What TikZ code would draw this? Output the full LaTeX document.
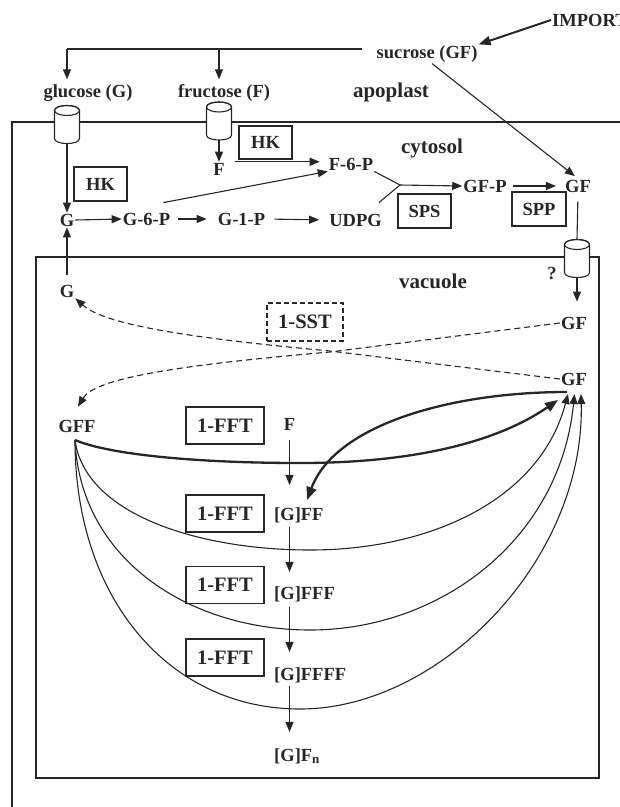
\documentclass[tikz,border=0pt]{standalone}
\usepackage{fontspec}
\setmainfont{Liberation Serif}
\usetikzlibrary{arrows.meta}
\definecolor{ink}{HTML}{262626}
\begin{document}
\begin{tikzpicture}[x=1pt,y=-1pt,
  lbl/.style={font=\fontsize{18.5}{20}\selectfont\bfseries, inner sep=1pt, text=ink},
  comp/.style={font=\fontsize{21}{24}\selectfont\bfseries, inner sep=1pt, text=ink},
  enzbox/.style={draw=ink, line width=1.1pt, font=\fontsize{18.5}{20}\selectfont\bfseries, inner sep=0pt, text=ink},
  fftbox/.style={enzbox, font=\fontsize{20.5}{22}\selectfont\bfseries, minimum width=78pt, minimum height=37pt},
  ln/.style={draw=ink, line width=1.1pt},
  arr/.style={ln, -{Triangle[length=10pt,width=8pt]}},
  thk/.style={draw=ink, line width=2.3pt, -{Triangle[length=13pt,width=10pt]}},
  dsh/.style={ln, dash pattern=on 6pt off 4pt, -{Triangle[length=10pt,width=8pt]}},
  cyl/.pic={
    \filldraw[draw=ink, line width=1.1pt, fill=white] (-12.5,-14) -- (-12.5,14)
      .. controls (-12.5,20.7) and (12.5,20.7) .. (12.5,14) -- (12.5,-14)
      .. controls (12.5,-20.7) and (-12.5,-20.7) .. cycle;
    \draw[ink, line width=1.1pt] (0,-14) ellipse [x radius=12.5, y radius=5];
    \coordinate (-top) at (0,-19);
    \coordinate (-bot) at (0,19);
  }
]
\useasboundingbox (0,0) rectangle (620,807);

% compartments
\draw[ln] (12,807) -- (12,122) -- (620,122);
\draw[ln] (36,257) rectangle (599,778);

\pic (cg) at (67,124.5) {cyl};
\pic (cf) at (219,121) {cyl};
\pic (cs) at (577,258.5) {cyl};

% apoplast
\node[lbl] (suc) at (427,54) {sucrose (GF)};
\node[lbl, anchor=west] (imp) at (551,20) {IMPORT};
\node[lbl] (glu) at (88,93) {glucose (G)};
\node[lbl] (fru) at (224,93) {fructose (F)};
\node[comp] (apo) at (391,92) {apoplast};
\node[comp] (cyt) at (432,148) {cytosol};
\node[comp] (vac) at (433,281) {vacuole};

\coordinate (sj) at (362,49);
\coordinate (gj) at (67,49);
\coordinate (fj) at (219,49);
\draw[ln] (sj) -- (gj);
\draw[arr, shorten >=4pt] (gj) -- (gj |- glu.north);
\draw[arr, shorten >=4pt] (fj) -- (fj |- fru.north);
\draw[draw=ink, line width=2pt, -{Triangle[length=12pt,width=9pt]}] (imp.west) -- (suc.north east);

% cytosol
\node[lbl] (Fc) at (219,169) {F};
\node[enzbox, minimum width=53pt, minimum height=33pt] (hk1) at (265.5,142.5) {HK};
\node[lbl] (F6P) at (351,164) {F-6-P};
\node[enzbox, minimum width=53pt, minimum height=34pt] (hk2) at (100.5,184) {HK};
\node[lbl] (G) at (67,220) {G};
\node[lbl] (G6P) at (146.5,219) {G-6-P};
\node[lbl] (G1P) at (241.5,219) {G-1-P};
\node[lbl] (UDPG) at (355.5,220) {UDPG};
\node[enzbox, minimum width=53pt, minimum height=34pt] (sps) at (424.5,211) {SPS};
\node[lbl] (GFP) at (485,186) {GF-P};
\node[enzbox, minimum width=54pt, minimum height=34pt] (spp) at (539,209) {SPP};
\node[lbl] (GFc) at (578,186) {GF};

\draw[arr, shorten >=4pt] ([xshift=5pt]suc.south) -- (GFc.north);
\draw[arr] (cf-bot) -- (Fc.north);
\draw[arr, shorten <=9pt, shorten >=8pt] (Fc.north east) -- (Fc.north east -| F6P.west);
\draw[arr] ([shift={(-8,-9)}]G6P.north east) -- (F6P.south west);
\draw[arr] (cg-bot) -- (G.north);
\draw[arr] (G.east) -- (G6P.west);
\draw[arr, shorten <=7pt, shorten >=10pt] (G6P.east) -- (G1P.west);
\draw[arr, shorten <=8pt, shorten >=9pt] (G1P.east) -- (UDPG.west);
\coordinate (sj2) at (400,185);
\draw[ln] (F6P.south east) -- (sj2) -- ([shift={(-4,-10)}]UDPG.north east);
\draw[arr] (sj2) -- (GFP.west);
\draw[arr, shorten <=5pt, shorten >=8pt] (GFP.east) -- (GFc.west);
\draw[ln, shorten <=8pt] (GFc.south) -- (cs-top);

% vacuole
\node[lbl] (q) at (552,273) {?};
\node[lbl] (GFv1) at (574,323) {GF};
\node[lbl] (GFv2) at (574,379) {GF};
\draw[arr, shorten >=14pt] (cs-bot) -- (cs-bot |- GFv1.north);
\node[lbl] (Gv) at (67,291) {G};
\draw[arr, shorten <=9pt] (Gv.north) -- (G.south);
\node[enzbox, dash pattern=on 5pt off 3pt, font=\fontsize{20.5}{22}\selectfont\bfseries, minimum width=76pt, minimum height=38pt] (sst) at (305,322) {1-SST};
\node[lbl] (GFF) at (77,426) {GFF};
\node[lbl] (Fv) at (289.5,424) {F};
\node[fftbox] (fft1) at (225,425.5) {1-FFT};
\node[fftbox] (fft2) at (225,513.5) {1-FFT};
\node[fftbox] (fft3) at (225,585) {1-FFT};
\node[fftbox] (fft4) at (225,657.5) {1-FFT};
\node[lbl, anchor=base west] (g2) at (273,520) {[G]FF};
\node[lbl, anchor=base west] (g3) at (273,599) {[G]FFF};
\node[lbl, anchor=base west] (g4) at (273,680) {[G]FFFF};
\node[lbl, anchor=base west] (gn) at (273,761) {[G]F\textsubscript{n}};

\draw[arr, shorten <=9pt, shorten >=21pt] (Fv.south) -- (Fv |- g2.north);
\draw[arr, shorten <=3pt, shorten >=13pt] (Fv |- g2.south) -- (Fv |- g3.north);
\draw[arr, shorten <=4pt, shorten >=14pt] (Fv |- g3.south) -- (Fv |- g4.north);
\draw[arr, shorten <=2pt, shorten >=15pt] (Fv |- g4.south) -- (Fv |- gn.north);

% 1-SST dashed connectors
\draw[dsh] (GFv1.west) -- (330,352) .. controls (180,365) and (95,378) .. ([shift={(1,-12)}]GFF.north);
\draw[dsh] (GFv2.west) -- (330,351) .. controls (190,338) and (105,325) .. (Gv.south east);

% 1-FFT curves
\coordinate (gffo) at (75,440);
\coordinate (t0) at (558,400);
\coordinate (t1) at (568,394);
\coordinate (t2) at (574.5,394);
\coordinate (t3) at (581,394);
\coordinate (bs) at (567,392);
\coordinate (bt) at (307,500);
\draw[thk] (gffo) .. controls (110,455) and (200,463) .. (300,463) .. controls (420,463) and (500,440) .. (t0);
\draw[thk] (bs) .. controls (450,392) and (335,425) .. (bt);
\draw[arr] (gffo) .. controls (85,515) and (200,550) .. (310,550) .. controls (430,550) and (540,500) .. (t1);
\draw[arr] (gffo) .. controls (80,560) and (190,630) .. (310,630) .. controls (440,630) and (560,540) .. (t2);
\draw[arr] (gffo) .. controls (75,600) and (170,709) .. (300,709) .. controls (440,709) and (585,560) .. (t3);
\end{tikzpicture}
\end{document}
